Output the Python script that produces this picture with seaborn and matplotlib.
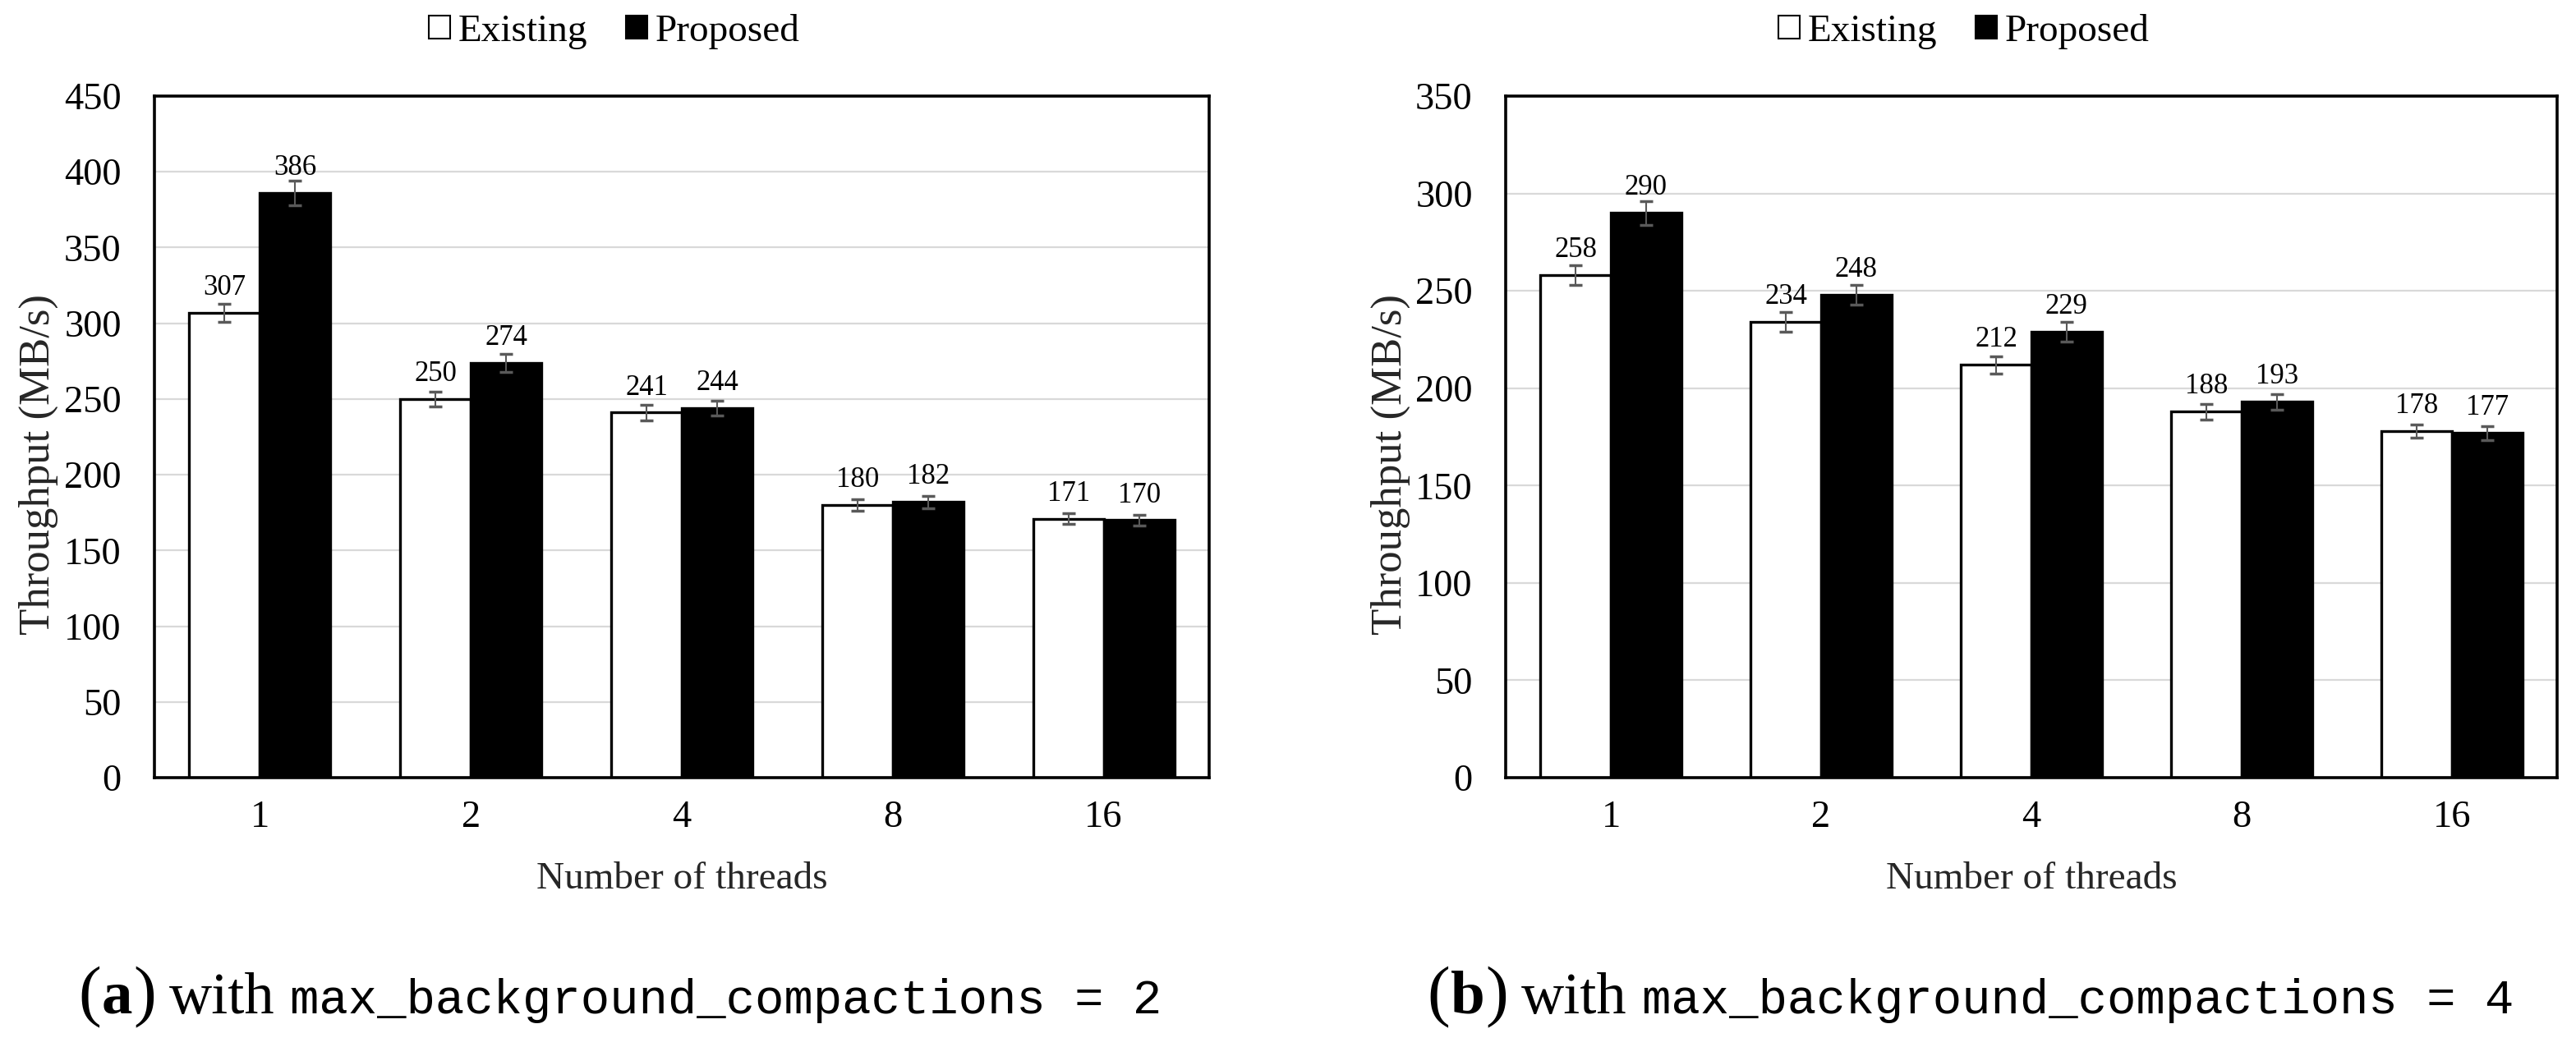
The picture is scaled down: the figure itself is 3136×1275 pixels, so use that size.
import matplotlib
matplotlib.use("Agg")
import matplotlib.pyplot as plt
import seaborn as sns
import pandas as pd

# ---------------- data ----------------
threads = ["1", "2", "4", "8", "16"]
methods = ["Existing", "Proposed"]

a_existing = [307, 250, 241, 180, 171]
a_proposed = [386, 274, 244, 182, 170]
a_existing_err = [6, 5, 5, 4, 3.5]
a_proposed_err = [8, 6, 5, 4, 3.5]

b_existing = [258, 234, 212, 188, 178]
b_proposed = [290, 248, 229, 193, 177]
b_existing_err = [5, 5, 4.5, 4, 3.5]
b_proposed_err = [6, 5, 5, 4, 3.5]

a_yticks = [0, 50, 100, 150, 200, 250, 300, 350, 400, 450]
b_yticks = [0, 50, 100, 150, 200, 250, 300, 350]

x_label = "Number of threads"
y_label = "Throughput (MB/s)"
cap_a = ("(", "a", ")", "with", "max_background_compactions = 2")
cap_b = ("(", "b", ")", "with", "max_background_compactions = 4")

# ---------------- style ----------------
sns.set_theme(style="white")
plt.rcParams["font.family"] = ["Liberation Serif", "DejaVu Serif"]
plt.rcParams["text.color"] = "black"

W, H = 3136, 1275
fig = plt.figure(figsize=(W / 100, H / 100), dpi=100)
fig.patch.set_facecolor("white")

def px(x0, y0, x1, y1):
    return [x0 / W, 1 - y1 / H, (x1 - x0) / W, (y1 - y0) / H]

ax_a = fig.add_axes(px(188, 117, 1472, 947))
ax_b = fig.add_axes(px(1833, 117, 3113, 947))

palette = {"Existing": "white", "Proposed": "black"}
handles = labels = None


def draw(ax, ex, pr, ex_err, pr_err, yticks):
    global handles, labels
    df = pd.DataFrame({
        "threads": threads * 2,
        "value": ex + pr,
        "method": ["Existing"] * len(threads) + ["Proposed"] * len(threads),
    })
    sns.barplot(data=df, x="threads", y="value", hue="method",
                order=threads, hue_order=methods, palette=palette,
                edgecolor="black", linewidth=2.4, width=0.67,
                errorbar=None, ax=ax, zorder=2)
    h, l = ax.get_legend_handles_labels()
    handles, labels = h, l
    if ax.get_legend() is not None:
        ax.get_legend().remove()
    errs = [ex_err, pr_err]
    for cont, err in zip(ax.containers, errs):
        xs = [b.get_x() + b.get_width() / 2 for b in cont]
        ys = [b.get_height() for b in cont]
        ax.errorbar(xs, ys, yerr=err, fmt="none", ecolor="#595959",
                    elinewidth=1.5, capsize=6, capthick=2.5, zorder=3)
        ax.bar_label(cont, fmt="{:.0f}", padding=10, fontsize=25,
                     color="black", zorder=4)
    ax.set_xlim(-0.5, len(threads) - 0.5)
    ax.set_ylim(yticks[0], yticks[-1])
    ax.set_yticks(yticks)
    ax.yaxis.grid(True, color="#d9d9d9", linewidth=1.6)
    ax.xaxis.grid(False)
    ax.set_axisbelow(True)
    for s in ax.spines.values():
        s.set_visible(True)
        s.set_color("black")
        s.set_linewidth(2.6)
    ax.tick_params(axis="both", length=0, labelsize=33.5, colors="black")
    ax.tick_params(axis="x", pad=20)
    ax.tick_params(axis="y", pad=29)
    ax.set_xlabel(x_label, fontsize=34, va="baseline")
    ax.xaxis.set_label_coords(0.5, (947 - 1082) / 830)
    ax.set_ylabel(y_label, fontsize=38, va="baseline")
    ax.yaxis.set_label_coords((60 - 188) / 1284, 0.46)


draw(ax_a, a_existing, a_proposed, a_existing_err, a_proposed_err, a_yticks)
draw(ax_b, b_existing, b_proposed, b_existing_err, b_proposed_err, b_yticks)

for cx in (748, 2391):
    leg = fig.legend(handles, labels, loc="center",
                     bbox_to_anchor=(cx / W, 1 - 38 / H), ncol=2,
                     frameon=False, handlelength=0.55, handleheight=0.55,
                     handletextpad=0.2, columnspacing=1.0, fontsize=34)
    for p in leg.get_patches():
        p.set_edgecolor("black")
        p.set_linewidth(1.5)

renderer = fig.canvas.get_renderer()


def caption(x0, pieces):
    specs = [
        dict(family=["Liberation Serif"], weight="normal", size=60),
        dict(family=["Liberation Serif"], weight="bold", size=54),
        dict(family=["Liberation Serif"], weight="normal", size=60),
        dict(family=["Liberation Serif"], weight="normal", size=52),
        dict(family=["Liberation Mono"], weight="normal", size=42.5),
    ]
    gaps = [1, 1, 16, 18, 0]
    x = x0
    for txt, sp, g in zip(pieces, specs, gaps):
        t = fig.text(x / W, 1 - 1234 / H, txt, ha="left", va="baseline",
                     fontfamily=sp["family"], fontweight=sp["weight"],
                     fontsize=sp["size"], color="black")
        bb = t.get_window_extent(renderer=renderer)
        x = bb.x1 + g


caption(95, cap_a)
caption(1737, cap_b)

fig.savefig("out.png", dpi=100, facecolor="white")
